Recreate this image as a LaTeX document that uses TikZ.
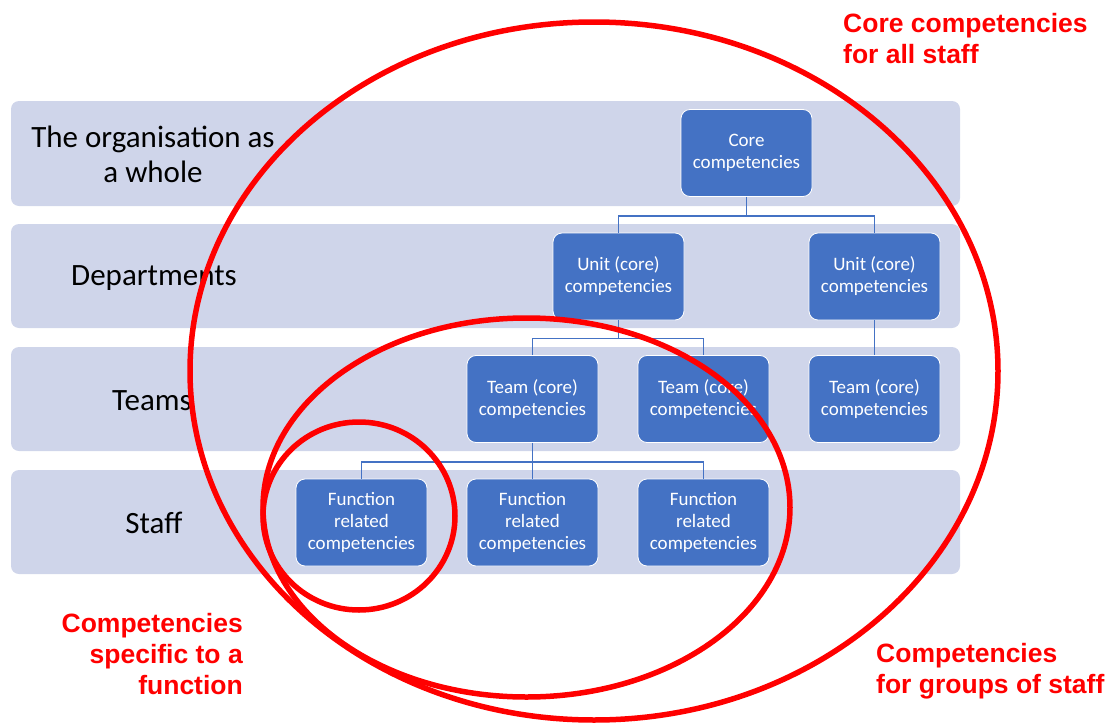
\documentclass[tikz,border=0pt]{standalone}
\usepackage{fontspec}
\setmainfont{Carlito}
\newfontfamily\redfont{Liberation Sans}
\definecolor{bandc}{HTML}{CFD5EA}
\definecolor{boxc}{HTML}{4472C4}
\definecolor{redc}{HTML}{FF0000}
\begin{document}
\begin{tikzpicture}[x=1pt,y=-1pt,
  band/.style={fill=bandc,draw=none,rounded corners=8pt},
  cbox/.style={fill=boxc,draw=white,line width=0.8pt,rounded corners=9pt,
    minimum width=131pt,minimum height=87pt,inner sep=0pt,align=center,text=white,
    font=\fontsize{19}{22}\selectfont},
  lvl/.style={align=center,text=black,font=\fontsize{31}{35}\selectfont,inner sep=0pt},
  conn/.style={draw=boxc,line width=1.5pt},
  ring/.style={draw=redc,line width=5.5pt},
  redlab/.style={text=redc,inner sep=0pt,font=\redfont\bfseries\fontsize{26.5}{31}\selectfont}
]
\useasboundingbox (0,0) rectangle (1112,723);
% bands
\path[band] (11,101) rectangle (960,206);
\path[band] (11,224) rectangle (960,328);
\path[band] (11,347) rectangle (960,451);
\path[band] (11,470) rectangle (960,574);
% level labels
\node[lvl] (l1) at (153,154) {The organisation as\\a whole};
\node[lvl] (l2) at (154,278) {Departments};
\node[lvl] (l3) at (152,401) {Teams};
\node[lvl] (l4) at (154,523) {Staff};
% boxes
\node[cbox] (core) at (746.5,153) {Core\\competencies};
\node[cbox] (u1) at (618.5,276.5) {Unit (core)\\competencies};
\node[cbox] (u2) at (874.5,276.5) {Unit (core)\\competencies};
\node[cbox] (t1) at (532.5,399) {Team (core)\\competencies};
\node[cbox] (t2) at (703.5,399) {Team (core)\\competencies};
\node[cbox] (t3) at (874.5,399) {Team (core)\\competencies};
\node[cbox] (f1) at (361.5,522.5) {Function\\related\\competencies};
\node[cbox] (f2) at (532.5,522.5) {Function\\related\\competencies};
\node[cbox] (f3) at (703.5,522.5) {Function\\related\\competencies};
% connectors
\path[conn] (core.south) -- ([yshift=-19pt]core.south);
\path[conn] (u1.north) |- ([yshift=-19pt]core.south) -| (u2.north);
\path[conn] (u1.south) -- ([yshift=-18pt]u1.south);
\path[conn] (t1.north) |- ([yshift=-18pt]u1.south) -| (t2.north);
\path[conn] (u2.south) -- (t3.north);
\path[conn] (t1.south) -- (f2.north);
\path[conn] (f1.north) |- ([yshift=-19pt]t1.south) -| (f3.north);
% red rings
\draw[ring] (594,371) ellipse [x radius=404, y radius=349];
\draw[ring] (526.5,507.5) ellipse [x radius=263.5, y radius=189.5];
\draw[ring] (359,516) ellipse [x radius=96, y radius=94];
% red labels
\node[redlab,anchor=west,align=left] (rl1) at (843,39) {Core competencies\\for all staff};
\node[redlab,anchor=east,align=right] (rl2) at (243,654) {Competencies\\specific to a\\function};
\node[redlab,anchor=west,align=left] (rl3) at (876,671) {Competencies\\for groups of staff};
\end{tikzpicture}
\end{document}
